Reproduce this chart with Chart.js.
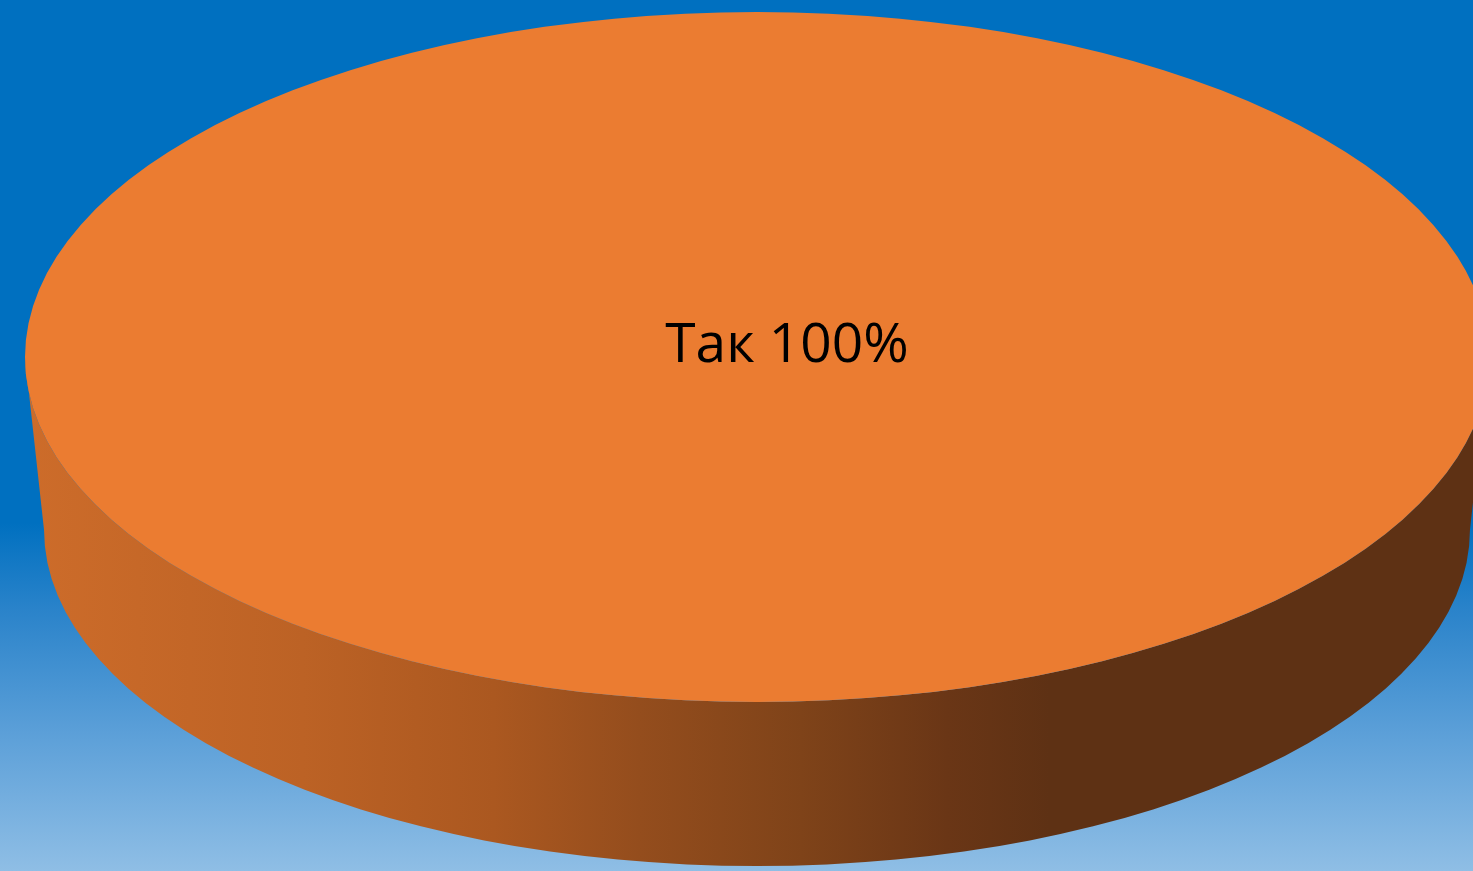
<!DOCTYPE html>
<html>
<head>
<meta charset="utf-8">
<script src="https://cdn.jsdelivr.net/npm/chart.js@4/dist/chart.umd.min.js"></script>
<style>
  html, body {
    margin: 0;
    padding: 0;
    overflow: hidden;
  }
  body {
    width: 1473px;
    height: 871px;
    background: linear-gradient(to bottom, #0070C0 0%, #0070C0 60%, #2A83CA 70%, #5B9FD8 84%, #8FBEE5 100%);
  }
  #wrap {
    position: absolute;
    left: 0;
    top: 0;
    width: 1473px;
    height: 871px;
  }
</style>
</head>
<body>
<div id="wrap"><canvas id="myChart"></canvas></div>
<script>
'use strict';

let categories = ['Так'];
let shares = [100];

// top face is a circle squashed to an ellipse
let squash = 345 / 732;

// side wall of the 3d pie, drawn under the slice
let sidePlugin = {
  id: 'side',
  beforeDatasetsDraw(chart) {
    let arc = chart.getDatasetMeta(0).data[0];
    let ctx = chart.ctx;
    let cx = arc.x;
    let cy = arc.y;
    let rx = arc.outerRadius;
    let ry = rx * squash;
    // bottom rim sits lower and a bit smaller (perspective)
    let bx = cx;
    let by = cy + 173;
    let brx = rx * 0.974;
    let bry = brx * squash;

    let grad = ctx.createLinearGradient(cx - rx, 0, cx + rx, 0);
    grad.addColorStop(0, '#CD6C2A');
    grad.addColorStop(0.19, '#BC6225');
    grad.addColorStop(0.32, '#AB5820');
    grad.addColorStop(0.42, '#944D1D');
    grad.addColorStop(0.53, '#7F4319');
    grad.addColorStop(0.63, '#6A3616');
    grad.addColorStop(0.70, '#5E3114');
    grad.addColorStop(1, '#5E3114');

    ctx.save();
    ctx.beginPath();
    ctx.ellipse(cx, cy, rx, ry, 0, 0, Math.PI, false);
    ctx.lineTo(bx - brx, by);
    ctx.ellipse(bx, by, brx, bry, 0, Math.PI, 0, true);
    ctx.closePath();
    ctx.fillStyle = grad;
    ctx.fill();

    // squash the slice drawing into an ellipse
    ctx.translate(cx, cy);
    ctx.scale(1, squash);
    ctx.translate(-cx, -cy);
  },
  afterDatasetsDraw(chart) {
    let ctx = chart.ctx;
    ctx.restore();

    let arc = chart.getDatasetMeta(0).data[0];
    let total = shares.reduce((a, b) => a + b, 0);
    let pct = Math.round(shares[0] / total * 100);
    ctx.save();
    ctx.fillStyle = '#000000';
    ctx.font = '55px "Open Sans", "Liberation Sans", sans-serif';
    ctx.textAlign = 'center';
    ctx.textBaseline = 'alphabetic';
    ctx.fillText(`${categories[0]} ${pct}%`, arc.x + 30, arc.y + 5);
    ctx.restore();
  }
};

let ctx = document.getElementById('myChart');

let config = {
  type: 'pie',
  data: {
    labels: categories,
    datasets: [
      {
        data: shares,
        backgroundColor: '#EB7C31',
        borderWidth: 0,
        radius: 732,
        clip: false
      }
    ]
  },
  options: {
    responsive: true,
    maintainAspectRatio: false,
    animation: false,
    events: [],
    layout: {
      padding: { left: 41, right: 0, top: 0, bottom: 157 }
    },
    plugins: {
      legend: { display: false },
      tooltip: { enabled: false }
    }
  },
  plugins: [sidePlugin]
};

new Chart(ctx, config);
</script>
</body>
</html>
